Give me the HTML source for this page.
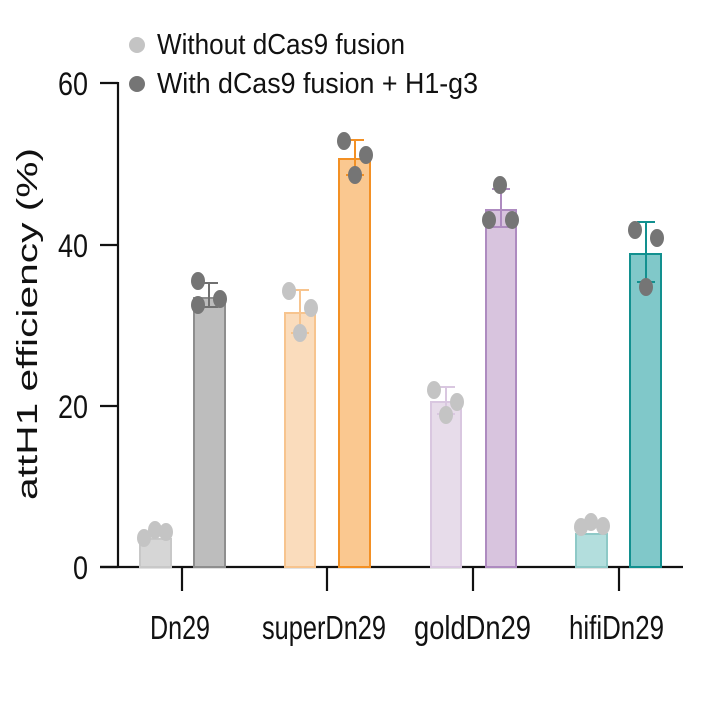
<!DOCTYPE html>
<html><head><style>body{margin:0;background:#fff}svg{display:block}</style></head>
<body>
<svg width="710" height="710" viewBox="0 0 710 710" xmlns="http://www.w3.org/2000/svg" font-family="Liberation Sans, sans-serif">
<circle cx="137" cy="45" r="8" fill="#c4c4c4"/>
<circle cx="137" cy="84" r="8" fill="#757575"/>
<text x="157" y="54" font-size="29" textLength="248" lengthAdjust="spacingAndGlyphs" fill="#111">Without dCas9 fusion</text>
<text x="157" y="93" font-size="29" textLength="321" lengthAdjust="spacingAndGlyphs" fill="#111">With dCas9 fusion + H1-g3</text>
<text transform="translate(37,500) rotate(-90)" x="0" y="0" font-size="29" textLength="352" lengthAdjust="spacingAndGlyphs" fill="#111">attH1 efficiency (%)</text>
<g stroke="#111" stroke-width="2.2" fill="none">
<line x1="118" y1="82" x2="118" y2="568"/>
<line x1="100" y1="567" x2="683" y2="567"/>
<line x1="100" y1="83" x2="118" y2="83"/>
<line x1="100" y1="245" x2="118" y2="245"/>
<line x1="100" y1="406" x2="118" y2="406"/>
<line x1="100" y1="567" x2="118" y2="567"/>
<line x1="182" y1="567" x2="182" y2="591"/>
<line x1="327" y1="567" x2="327" y2="591"/>
<line x1="473" y1="567" x2="473" y2="591"/>
<line x1="619" y1="567" x2="619" y2="591"/>
</g>
<g font-size="32" fill="#111" text-anchor="end">
<text x="88" y="95" textLength="30" lengthAdjust="spacingAndGlyphs">60</text>
<text x="88" y="257" textLength="30" lengthAdjust="spacingAndGlyphs">40</text>
<text x="88" y="418" textLength="30" lengthAdjust="spacingAndGlyphs">20</text>
<text x="88" y="579" textLength="15" lengthAdjust="spacingAndGlyphs">0</text>
</g>
<g font-size="33" fill="#111">
<text x="150" y="639" textLength="60" lengthAdjust="spacingAndGlyphs">Dn29</text>
<text x="262" y="639" textLength="124" lengthAdjust="spacingAndGlyphs">superDn29</text>
<text x="414" y="639" textLength="117" lengthAdjust="spacingAndGlyphs">goldDn29</text>
<text x="569" y="639" textLength="95" lengthAdjust="spacingAndGlyphs">hifiDn29</text>
</g>
<g stroke-width="2">
<rect x="140" y="539" width="31" height="28" fill="#d6d6d6" stroke="#c8c8c8"/>
<rect x="194" y="298" width="31" height="269" fill="#bdbdbd" stroke="#8e8e8e"/>
<rect x="285" y="313" width="30" height="254" fill="#fadcbc" stroke="#f7c48e"/>
<rect x="339" y="159" width="31" height="408" fill="#fac890" stroke="#f39024"/>
<rect x="431" y="402" width="30" height="165" fill="#e7dcea" stroke="#d9c7e0"/>
<rect x="486" y="210" width="30" height="357" fill="#d8c4de" stroke="#ae8bc0"/>
<rect x="576" y="534" width="31" height="33" fill="#b3dedd" stroke="#8ec9c7"/>
<rect x="630" y="254" width="31" height="313" fill="#80c8c9" stroke="#12908f"/>
</g>
<g stroke-width="2" fill="none">
<path d="M209 283V307M200 283H218M200 307H218" stroke="#707070"/>
<path d="M300 290V333M291 290H309M291 333H309" stroke="#f7c48e"/>
<path d="M355 140V175M346 140H364M346 175H364" stroke="#f39024"/>
<path d="M446 387V414M437 387H455M437 414H455" stroke="#d9c7e0"/>
<path d="M501 189V227M492 189H510M492 227H510" stroke="#ae8bc0"/>
<path d="M646 222V282M637 222H655M637 282H655" stroke="#12908f"/>
</g>
<g fill="#c4c4c4">
<ellipse cx="144" cy="538" rx="7" ry="9"/><ellipse cx="155" cy="530" rx="7" ry="9"/><ellipse cx="166" cy="532" rx="7" ry="9"/>
<ellipse cx="289" cy="291" rx="7" ry="9"/><ellipse cx="311" cy="308" rx="7" ry="9"/><ellipse cx="300" cy="333" rx="7" ry="9"/>
<ellipse cx="434" cy="390" rx="7" ry="9"/><ellipse cx="457" cy="402" rx="7" ry="9"/><ellipse cx="446" cy="415" rx="7" ry="9"/>
<ellipse cx="581" cy="527" rx="7" ry="9"/><ellipse cx="591" cy="522" rx="7" ry="9"/><ellipse cx="603" cy="526" rx="7" ry="9"/>
</g>
<g fill="#757575">
<ellipse cx="198" cy="281" rx="7" ry="9"/><ellipse cx="198" cy="305" rx="7" ry="9"/><ellipse cx="220" cy="299" rx="7" ry="9"/>
<ellipse cx="344" cy="141" rx="7" ry="9"/><ellipse cx="366" cy="155" rx="7" ry="9"/><ellipse cx="355" cy="175" rx="7" ry="9"/>
<ellipse cx="500" cy="185" rx="7" ry="9"/><ellipse cx="489" cy="220" rx="7" ry="9"/><ellipse cx="512" cy="220" rx="7" ry="9"/>
<ellipse cx="635" cy="230" rx="7" ry="9"/><ellipse cx="657" cy="238" rx="7" ry="9"/><ellipse cx="646" cy="287" rx="7" ry="9"/>
</g>
</svg>
</body></html>
